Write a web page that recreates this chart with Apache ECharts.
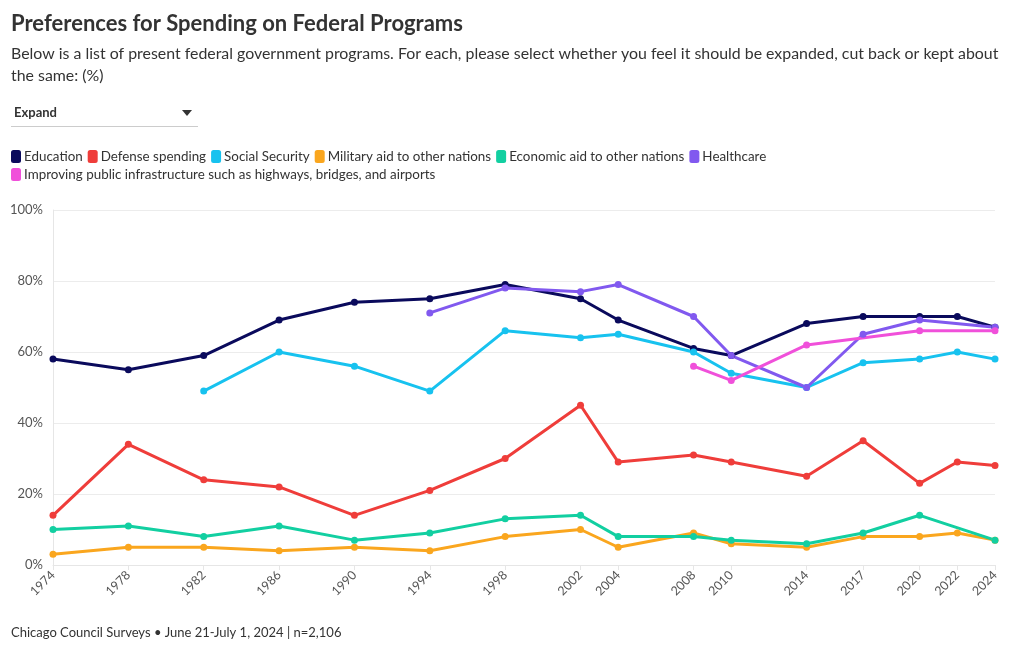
<!DOCTYPE html>
<html>
<head>
<meta charset="utf-8">
<script src="https://cdn.jsdelivr.net/npm/echarts@6/dist/echarts.min.js"></script>
<style>
html,body{margin:0;padding:0;background:#fff;}
#chart{width:1020px;height:650px;}
</style>
</head>
<body>
<div id="chart"></div>
<script>
const years = [1974,1978,1982,1986,1990,1994,1998,2002,2004,2008,2010,2014,2017,2020,2022,2024];
const education      = [58,55,59,69,74,75,79,75,69,61,59,68,70,70,70,67];
const defense        = [14,34,24,22,14,21,30,45,29,31,29,25,35,23,29,28];
const socialSecurity = [null,null,49,60,56,49,66,64,65,60,54,50,57,58,60,58];
const militaryAid    = [3,5,5,4,5,4,8,10,5,9,6,5,8,8,9,7];
const economicAid    = [10,11,8,11,7,9,13,14,8,8,7,6,9,14,null,7];
const healthcare     = [null,null,null,null,null,71,78,77,79,70,59,50,65,69,null,67];
const infrastructure = [null,null,null,null,null,null,null,null,null,56,52,62,null,66,null,66];
const yTicks = [0,20,40,60,80,100];

const seriesDefs = [
  ['Education', education, '#0a0a5c'],
  ['Defense spending', defense, '#ef3d3a'],
  ['Social Security', socialSecurity, '#17c2ef'],
  ['Military aid to other nations', militaryAid, '#faa61e'],
  ['Economic aid to other nations', economicAid, '#12cfa1'],
  ['Healthcare', healthcare, '#8159ef'],
  ['Improving public infrastructure such as highways, bridges, and airports', infrastructure, '#f050da']
];

const FONT = 'Lato';
const chart = echarts.init(document.getElementById('chart'), null, {renderer:'canvas'});
chart.setOption({
  backgroundColor:'#fff',
  animation:false,
  textStyle:{fontFamily:FONT},
  title:[{
    text:'Preferences for Spending on Federal Programs',
    left:11, top:13, padding:0,
    textStyle:{fontFamily:FONT,fontSize:22,fontWeight:'bold',color:'#333'}
  },{
    text:'Below is a list of present federal government programs. For each, please select whether you feel it should be expanded, cut back or kept about\nthe same: (%)',
    left:11, top:43, padding:0,
    textStyle:{fontFamily:FONT,fontSize:15.9,fontWeight:'normal',color:'#333',lineHeight:22}
  },{
    text:'Chicago Council Surveys \u2022 June 21-July 1, 2024 | n=2,106',
    left:11, top:626, padding:0,
    textStyle:{fontFamily:FONT,fontSize:13,fontWeight:'normal',color:'#333'}
  }],
  graphic:[
    {type:'text', left:14, top:106, style:{text:'Expand', font:'bold 13px '+FONT, fill:'#333'}},
    {type:'polygon', shape:{points:[[182,110],[192,110],[187,116]]}, style:{fill:'#333'}},
    {type:'line', shape:{x1:11,y1:126.5,x2:198,y2:126.5}, style:{stroke:'#ccc',lineWidth:1}}
  ],
  legend:{
    left:11, top:150, width:820, padding:0,
    icon:'roundRect', itemWidth:10, itemHeight:13, itemGap:5,
    textStyle:{fontFamily:FONT,fontSize:13.4,color:'#333',padding:[0,0,0,-2]},
    data:seriesDefs.map(d=>d[0])
  },
  grid:{left:53,right:25,top:210,bottom:85,containLabel:false},
  xAxis:{
    type:'value', min:1974, max:2024,
    axisLine:{show:true,lineStyle:{color:'#e6e6e6'}},
    axisTick:{show:true,customValues:years,length:5,lineStyle:{color:'#e6e6e6'}},
    splitLine:{show:false},
    axisLabel:{customValues:years,rotate:45,color:'#555',fontSize:12.5,fontFamily:FONT,margin:8,formatter:v=>String(v)}
  },
  yAxis:{
    type:'value', min:0, max:100, interval:20,
    axisLine:{show:true,lineStyle:{color:'#e6e6e6'}},
    axisTick:{show:false},
    splitLine:{show:true,lineStyle:{color:'#ececec'}},
    axisLabel:{color:'#555',fontSize:13,fontFamily:FONT,margin:10,formatter:v=>yTicks.includes(v)?v+'%':''}
  },
  series:seriesDefs.map(([name,vals,color])=>({
    name, type:'line', connectNulls:true,
    data:years.map((y,i)=>[y,vals[i]]).filter(p=>p[1]!=null),
    symbol:'circle', symbolSize:7,
    lineStyle:{width:3,color}, itemStyle:{color},
    emphasis:{disabled:true}
  }))
});
</script>
</body>
</html>
